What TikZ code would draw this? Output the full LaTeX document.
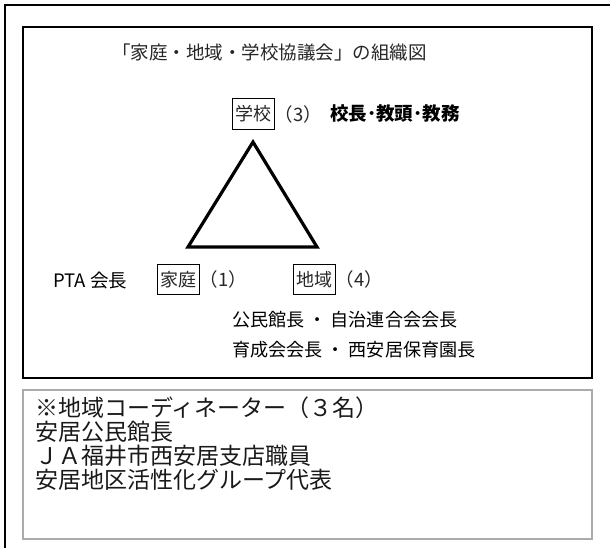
\documentclass[tikz,border=0pt]{standalone}
\usepackage{fontspec}
\setmainfont{Noto Sans CJK JP}
\newfontfamily\cjk{Noto Sans CJK JP}
\begin{document}
\begin{tikzpicture}[x=1pt,y=-1pt,
  txt/.style={inner sep=0pt,anchor=west,font=\cjk\fontsize{18.5}{20}\selectfont},
  rtxt/.style={txt,font=\cjk\fontsize{18.1}{20}\selectfont},
  mtxt/.style={txt,text=black!85},
  wordbox/.style={draw=black,line width=0.9pt,inner sep=0pt,minimum width=42,minimum height=30.5,text=black!85,font=\cjk\fontsize{18}{20}\selectfont},
  ltxt/.style={inner sep=0pt,anchor=west,text=black!90,font=\cjk\fontsize{23}{24}\selectfont}]
\useasboundingbox (0,0) rectangle (610,548);
% outer frame (cropped at right and bottom)
\draw[line width=1.5pt,line cap=rect] (5,560) -- (5,5) -- (620,5);
% inner diagram box
\draw[line width=2.4pt,black] (23,27) rectangle (592,378);
% lower box
\draw[line width=2.6pt,black!33] (23,390) rectangle (592,539);
% title
\node[mtxt] (title) at (112,52) {「家庭・地域・学校協議会」の組織図};
% school
\node[wordbox] (school) at (253,114) {学校};
\node[mtxt,anchor=west] (schooln) at (school.east) {（3）};
\node[txt] (schoolm) at (330,114) {\bfseries 校長･教頭･教務};
% triangle
\coordinate (apex) at (253,142);
\coordinate (bl) at (188,247);
\coordinate (br) at (317,247);
\draw[line width=3.2pt,line join=miter] (apex) -- (bl) -- (br) -- cycle;
% home
\node[txt] (pta) at (53,281) {PTA 会長};
\node[wordbox] (home) at (178,279.5) {家庭};
\node[mtxt,anchor=west] (homen) at (home.east) {（1）};
% region
\node[wordbox] (region) at (314,279.5) {地域};
\node[mtxt,anchor=west] (regionn) at (region.east) {（4）};
\node[rtxt] (reg1) at (232,320) {公民館長 ・ 自治連合会会長};
\node[rtxt] (reg2) at (232,350) {育成会会長 ・ 西安居保育園長};
% coordinators
\node[ltxt] (c1) at (35,408) {※地域コーディネーター（３名）};
\node[ltxt] (c2) at (35,432) {安居公民館長};
\node[ltxt] (c3) at (35,456) {ＪＡ福井市西安居支店職員};
\node[ltxt] (c4) at (35,480) {安居地区活性化グループ代表};
\end{tikzpicture}
\end{document}
